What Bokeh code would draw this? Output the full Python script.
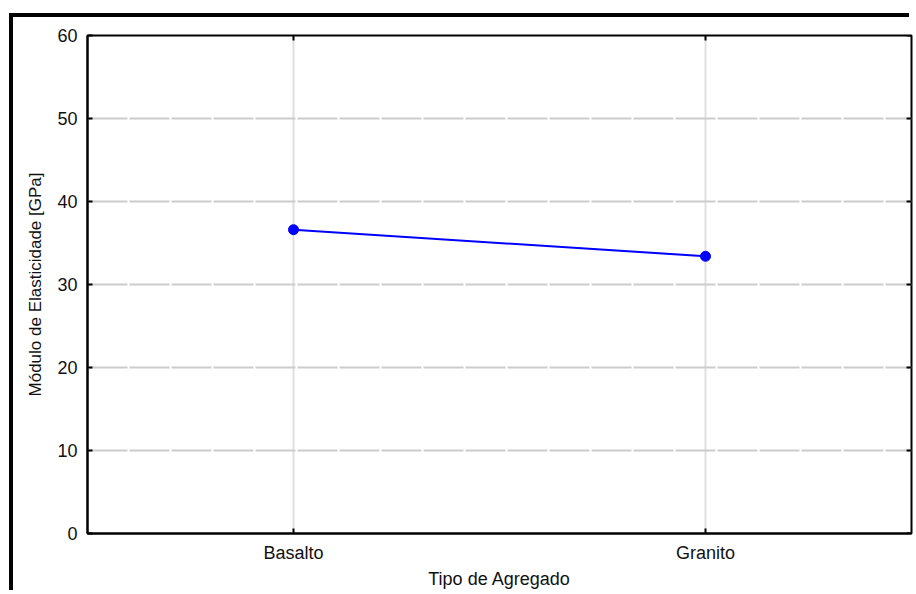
from bokeh.plotting import figure
from bokeh.models import FactorRange, Range1d, FixedTicker, LinearScale
from bokeh.embed import file_html
from bokeh.resources import INLINE

# ---- data ----
categories = ["Basalto", "Granito"]
modulus = [36.6, 33.4]
y_ticks = [0, 10, 20, 30, 40, 50, 60]
x_label = "Tipo de Agregado"
y_label = "Módulo de Elasticidade [GPa]"

W, H = 900, 577
FONT = "Liberation Sans"

p = figure(width=W, height=H, output_backend="svg", toolbar_location=None,
           x_range=FactorRange(*categories, range_padding=0),
           y_range=Range1d(0, 60),
           min_border_left=74, min_border_top=18, min_border_right=2,
           min_border_bottom=61)
# page frame (top and left edges) drawn as an outer shadow of the figure box
p.styles = {"box-shadow": "-4px -4px 0 0 black",
            "margin-left": "13px", "margin-top": "17px"}
p.background_fill_color = "white"
p.border_fill_color = "white"
p.outline_line_color = "black"
p.outline_line_width = 2

# grids
p.xgrid.grid_line_color = "#c0c0c0"
p.xgrid.grid_line_width = 2
p.xgrid.grid_line_dash = "1 1"
p.ygrid.grid_line_color = "#cccccc"
p.ygrid.grid_line_width = 2
p.ygrid.grid_line_dash = "40 2"
p.yaxis.ticker = FixedTicker(ticks=y_ticks)

for ax in p.yaxis:
    ax.axis_label = y_label
    ax.axis_label_text_font = FONT
    ax.axis_label_text_font_style = "normal"
    ax.axis_label_text_font_size = "17px"
    ax.axis_label_text_color = "#111111"
    ax.axis_label_standoff = 9
    ax.major_label_text_font = FONT
    ax.major_label_text_font_size = "18px"
    ax.major_label_text_color = "#111111"
    ax.major_label_standoff = 10
    ax.major_tick_in = 5
    ax.major_tick_out = 0
    ax.major_tick_line_width = 2
    ax.minor_tick_line_color = None
    ax.axis_line_width = 2

for ax in p.xaxis:
    ax.axis_label = x_label
    ax.axis_label_text_font = FONT
    ax.axis_label_text_font_style = "normal"
    ax.axis_label_text_font_size = "18px"
    ax.axis_label_text_color = "#111111"
    ax.axis_label_standoff = 3
    ax.major_label_text_font = FONT
    ax.major_label_text_font_size = "18px"
    ax.major_label_text_color = "#111111"
    ax.major_label_standoff = 9
    ax.major_tick_in = 5
    ax.major_tick_out = 0
    ax.major_tick_line_width = 2
    ax.axis_line_width = 2

# inward ticks on the right and top edges of the frame
p.extra_y_ranges = {"fy": Range1d(0, 1)}
p.extra_y_scales = {"fy": LinearScale()}
right_edge = categories[-1]
p.segment(x0=[(right_edge, 0.488)] * len(y_ticks), x1=[(right_edge, 0.5)] * len(y_ticks),
          y0=y_ticks, y1=y_ticks, line_color="black", line_width=2)
p.segment(x0=categories, x1=categories, y0=[0.99] * len(categories), y1=[1.0] * len(categories),
          y_range_name="fy", line_color="black", line_width=2)

# data line and markers
p.line(categories, modulus, line_color="#0000ff", line_width=2)
p.scatter(categories, modulus, size=10, fill_color="#0000ff", line_color="#0000ff")

open("out.html", "w").write(file_html(p, INLINE))
